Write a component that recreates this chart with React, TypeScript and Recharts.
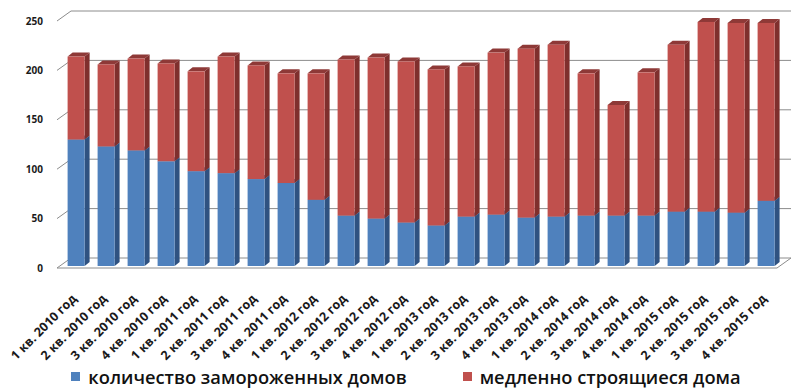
import React from 'react';
import { BarChart, Bar, XAxis, YAxis, CartesianGrid, Legend } from 'recharts';

const categories = [
  '1 кв. 2010 год', '2 кв. 2010 год', '3 кв. 2010 год', '4 кв. 2010 год',
  '1 кв. 2011 год', '2 кв. 2011 год', '3 кв. 2011 год', '4 кв. 2011 год',
  '1 кв. 2012 год', '2 кв. 2012 год', '3 кв. 2012 год', '4 кв. 2012 год',
  '1 кв. 2013 год', '2 кв. 2013 год', '3 кв. 2013 год', '4 кв. 2013 год',
  '1 кв. 2014 год', '2 кв. 2014 год', '3 кв. 2014 год', '4 кв. 2014 год',
  '1 кв. 2015 год', '2 кв. 2015 год', '3 кв. 2015 год', '4 кв. 2015 год',
];

const frozenHouses = [128, 121, 117, 106, 96, 94, 88, 84, 67, 51, 48, 44, 41, 50, 52, 49, 50, 51, 51, 51, 55, 55, 54, 66];
const slowHouses = [84, 83, 93, 99, 101, 118, 115, 111, 128, 158, 163, 163, 158, 152, 164, 171, 174, 144, 112, 145, 169, 192, 192, 180];

const yTicks = [0, 50, 100, 150, 200, 250];

const SERIES_FROZEN = 'количество замороженных домов';
const SERIES_SLOW = 'медленно строящиеся дома';

const data = categories.map((c, i) => ({
  name: c,
  frozen: frozenHouses[i],
  slow: slowHouses[i],
}));

const W = 800;
const H = 392;
const X_AXIS_H = 100;
const MARGIN = { top: 21, right: 23, bottom: 24, left: 0 };
const FLOOR_Y = H - MARGIN.bottom - X_AXIS_H;
const DEPTH_X = 14;
const DEPTH_Y = 10;
const BAR_DX = 4;
const BAR_DY = 2;
const BAR_SIDE = 5;
const BAR_TOP = 4;
const GRID = '#8c8c8c';

function makeShape(front: string, side: string, top: string) {
  return (props: any) => {
    const { x, y, width, height } = props;
    if (width == null || height == null || height <= 0) return <g />;
    const x0 = x + BAR_DX;
    const y0 = y - BAR_DY;
    const x1 = x0 + width;
    const y1 = y0 + height;
    return (
      <g>
        <polygon
          points={`${x1},${y0} ${x1 + BAR_SIDE},${y0 - BAR_TOP} ${x1 + BAR_SIDE},${y1 - BAR_TOP} ${x1},${y1}`}
          fill={side}
        />
        <polygon
          points={`${x0},${y0} ${x0 + BAR_SIDE},${y0 - BAR_TOP} ${x1 + BAR_SIDE},${y0 - BAR_TOP} ${x1},${y0}`}
          fill={top}
        />
        <rect x={x0} y={y0} width={width} height={height} fill={front} />
      </g>
    );
  };
}

const gridLine = (props: any) => {
  const { x1, y1, x2 } = props;
  const isFloor = Math.abs(y1 - FLOOR_Y) < 1;
  const back = `M${x1},${y1} L${x1 + DEPTH_X},${y1 - DEPTH_Y} L${x2 + DEPTH_X},${y1 - DEPTH_Y}`;
  const d = isFloor ? `${back} L${x2},${y1} Z` : back;
  return <path key={`g-${y1}`} d={d} fill="none" stroke={GRID} strokeWidth={1} />;
};

const XTick = (props: any) => {
  const { x, y, payload } = props;
  return (
    <g transform={`translate(${x + 3},${y + 21})`}>
      <text
        x={0}
        y={0}
        transform="rotate(-45)"
        textAnchor="end"
        dominantBaseline="middle"
        fontSize={12.5}
        fontWeight={700}
        fill="#1a1a1a"
        fontFamily="'Open Sans', sans-serif"
      >
        {payload.value}
      </text>
    </g>
  );
};

const renderLegend = (props: any) => {
  const { payload } = props;
  return (
    <div
      style={{
        display: 'flex',
        justifyContent: 'center',
        alignItems: 'center',
        fontFamily: "'Open Sans', sans-serif",
        fontSize: 18.3,
        fontWeight: 600,
        color: '#111',
        paddingLeft: 12,
      }}
    >
      {(payload || []).map((p: any, i: number) => (
        <div key={i} style={{ display: 'flex', alignItems: 'center', marginRight: i === 0 ? 56 : 0 }}>
          <span style={{ display: 'inline-block', width: 9, height: 9, background: p.color, marginRight: 8 }} />
          <span>{p.value}</span>
        </div>
      ))}
    </div>
  );
};

export default function App() {
  return (
    <div style={{ position: 'absolute', left: 0, top: 0, width: W, height: H, background: '#fff' }}>
      <BarChart width={W} height={H} data={data} margin={MARGIN} barCategoryGap="22%">
        <CartesianGrid vertical={false} horizontal={gridLine} />
        <XAxis
          dataKey="name"
          axisLine={false}
          tickLine={false}
          interval={0}
          tick={<XTick />}
          height={X_AXIS_H}
        />
        <YAxis
          width={57}
          domain={[0, 250]}
          ticks={yTicks}
          axisLine={false}
          tickLine={false}
          tickMargin={8}
          tick={{ fontSize: 10, fontWeight: 700, fill: '#1a1a1a', fontFamily: "'Open Sans', sans-serif" }}
        />
        <Legend
          verticalAlign="middle"
          align="center"
          layout="horizontal"
          content={renderLegend}
          wrapperStyle={{ position: 'absolute', top: 364, left: 0, width: W, bottom: 'auto' }}
        />
        <Bar
          dataKey="frozen"
          name={SERIES_FROZEN}
          stackId="a"
          fill="#4F81BD"
          isAnimationActive={false}
          shape={makeShape('#4F81BD', '#2F5281', '#3B6496')}
        />
        <Bar
          dataKey="slow"
          name={SERIES_SLOW}
          stackId="a"
          fill="#C0504D"
          isAnimationActive={false}
          shape={makeShape('#C0504D', '#7F2F2D', '#8E3937')}
        />
      </BarChart>
    </div>
  );
}
